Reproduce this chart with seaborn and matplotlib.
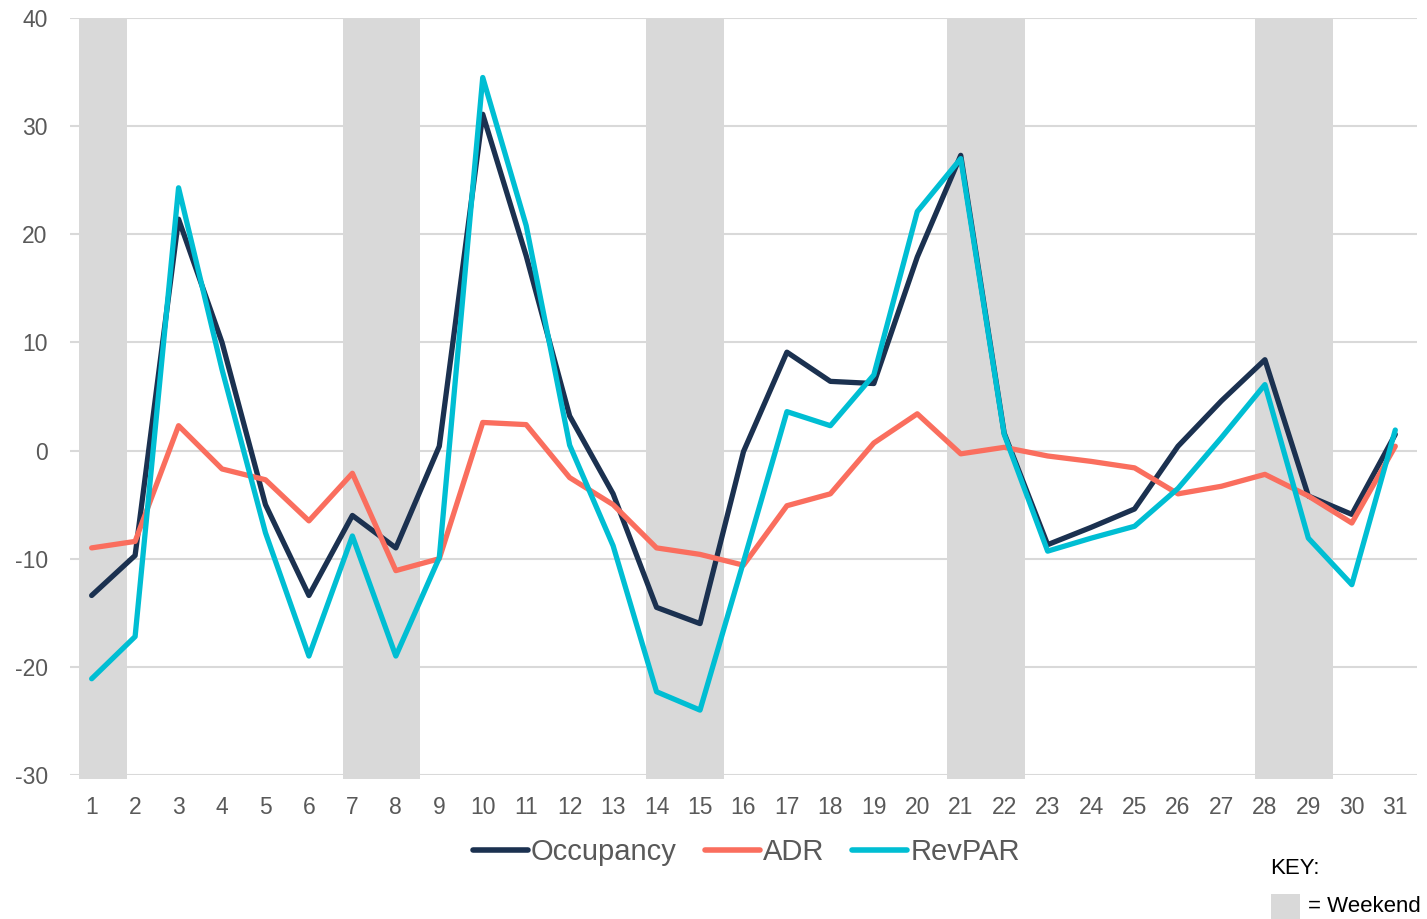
import numpy as np
import pandas as pd
import matplotlib.pyplot as plt
import seaborn as sns
from matplotlib.patches import Rectangle

days = list(range(1, 32))
occupancy = [-13.4, -9.7, 21.4, 10.0, -5.0, -13.4, -6.0, -9.0, 0.4, 31.1,
             18.0, 3.2, -4.0, -14.5, -16.0, -0.1, 9.1, 6.4, 6.2, 17.9,
             27.3, 1.6, -8.7, -7.1, -5.4, 0.4, 4.6, 8.4, -4.2, -5.9, 1.5]
adr = [-9.0, -8.4, 2.3, -1.7, -2.7, -6.5, -2.1, -11.1, -10.0, 2.6,
       2.4, -2.5, -5.0, -9.0, -9.6, -10.6, -5.1, -4.0, 0.7, 3.4,
       -0.3, 0.3, -0.5, -1.0, -1.6, -4.0, -3.3, -2.2, -4.2, -6.7, 0.4]
revpar = [-21.1, -17.2, 24.3, 7.5, -7.6, -19.0, -7.9, -19.0, -9.9, 34.5,
          20.8, 0.5, -8.8, -22.3, -24.0, -10.3, 3.6, 2.3, 7.0, 22.1,
          27.0, 1.5, -9.3, -8.1, -7.0, -3.5, 1.2, 6.1, -8.1, -12.4, 1.9]
# weekend shading (start, end) in day units
weekends = [(0.72, 1.81), (6.78, 8.55), (13.76, 15.55), (20.69, 22.48), (27.78, 29.57)]

df = pd.DataFrame({"Day": days, "Occupancy": occupancy, "ADR": adr, "RevPAR": revpar})
long_df = df.melt(id_vars="Day", var_name="Metric", value_name="Change")

colors = {"Occupancy": "#1B3150", "ADR": "#FA6E5E", "RevPAR": "#00BED3"}
grey = "#D9D9D9"
txt = "#595959"

sns.set_style("white")
plt.rcParams["font.family"] = ["Liberation Sans", "DejaVu Sans"]
plt.rcParams["axes.unicode_minus"] = False

fig = plt.figure(figsize=(14.27, 9.19), dpi=100)
ax = fig.add_axes([0.049, 0.1567, 0.944, 0.8237])

for s, e in weekends:
    ax.axvspan(s, e, ymin=-0.005, ymax=1, color=grey, lw=0, zorder=0, clip_on=False)

for y in range(-30, 41, 10):
    ax.axhline(y, color=grey, lw=1.5, zorder=0.5)

sns.lineplot(data=long_df, x="Day", y="Change", hue="Metric", palette=colors,
             linewidth=3.8, ax=ax, legend=False, zorder=3)

ax.set_xlim(0.5, 31.5)
ax.set_ylim(-30, 40)
ax.set_xticks(days)
ax.set_yticks(range(-30, 41, 10))
ax.tick_params(axis="both", length=0, labelsize=16.5, labelcolor=txt)
ax.tick_params(axis="x", pad=15)
ax.tick_params(axis="y", pad=16)
ax.set_xlabel("")
ax.set_ylabel("")
for sp in ax.spines.values():
    sp.set_visible(False)

handles = [plt.Line2D([], [], color=colors[k], lw=4) for k in ["Occupancy", "ADR", "RevPAR"]]
fig.legend(handles, ["Occupancy", "ADR", "RevPAR"], loc="center", bbox_to_anchor=(0.523, 0.073),
           ncol=3, frameon=False, fontsize=21, labelcolor=txt, handlelength=1.9,
           handletextpad=0.1, columnspacing=0.95)

fig.text(1270 / 1427, 1 - 868 / 919, "KEY:", fontsize=16, color="black", va="center", ha="left")
fig.patches.append(Rectangle((1271 / 1427, 1 - 919 / 919), 29 / 1427, 25 / 919,
                             transform=fig.transFigure, color=grey, lw=0))
fig.text(1308 / 1427, 1 - 907 / 919, "= Weekend", fontsize=16, color="black", va="center", ha="left")

fig.savefig("out.png", dpi=100)
